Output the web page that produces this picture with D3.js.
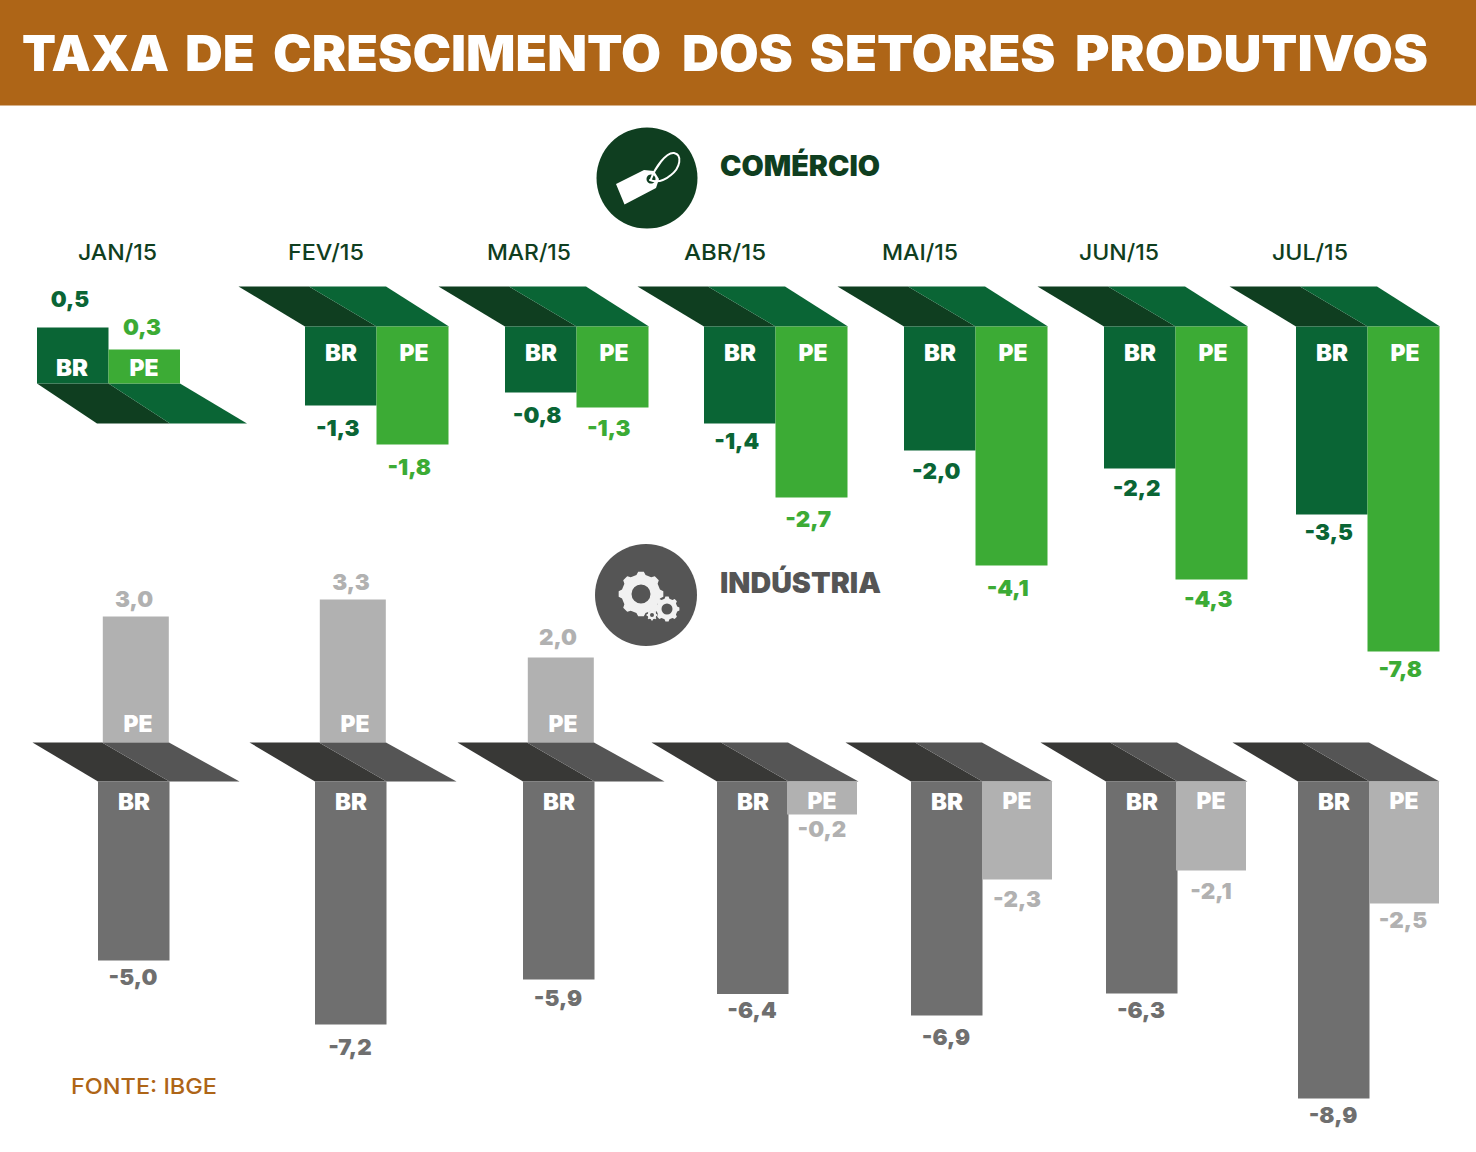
<!DOCTYPE html>
<html lang="pt">
<head>
<meta charset="utf-8">
<title>Taxa de crescimento dos setores produtivos</title>
<script src="https://cdn.jsdelivr.net/npm/d3@7/dist/d3.min.js"></script>
<style>
html,body{margin:0;padding:0;background:#fff}
svg{display:block}
text{font-family:Inter,"Open Sans",sans-serif}
</style>
</head>
<body>
<svg id="chart" width="1476" height="1152"></svg>
<script>
// ---- Data ----
const months = ["JAN/15","FEV/15","MAR/15","ABR/15","MAI/15","JUN/15","JUL/15"];
const comercioBR = [0.5,-1.3,-0.8,-1.4,-2.0,-2.2,-3.5];
const comercioPE = [0.3,-1.8,-1.3,-2.7,-4.1,-4.3,-7.8];
const industriaBR = [-5.0,-7.2,-5.9,-6.4,-6.9,-6.3,-8.9];
const industriaPE = [3.0,3.3,2.0,-0.2,-2.3,-2.1,-2.5];
const titleWords = ["TAXA","DE","CRESCIMENTO","DOS","SETORES","PRODUTIVOS"];

// ---- Layout ----
const C = {banner:"#ae6517",dark:"#0f3e20",green:"#0a6535",light:"#3cab35",
           gDark:"#383836",gMid:"#555555",gBar:"#6f6f6f",gLight:"#b1b1b1"};
const titleSpan = [[22,147],[185,70],[273,388],[682,111],[809.5,246],[1075,353]];
const monthX   = d3.scaleOrdinal(months,[117.5,326,529,725,920,1119,1310]);
const comBrX   = d3.scaleOrdinal(months,[37,305,505,704,904,1104,1296]);
const indBrX   = d3.scaleOrdinal(months,[98,315,523,717,911,1106,1298]);
const indPeNegX= d3.scaleOrdinal(months,[169,385.5,593.5,787,982,1176,1369]);
const W = 71.5;

// The source graphic is not drawn to a single linear scale: piecewise scales
// reproduce its drawn bar lengths.
const comBrLen = d3.scaleLinear([0,0.8,1.3,1.4,2.0,2.2,3.5],[0,66,79,97,124,142,188]);
const comPeLen = d3.scaleLinear([0,1.3,1.8,2.7,4.1,4.3,7.8],[0,81,118,171,239,253,325]);
const comPosLen= d3.scaleLinear([0,0.3,0.5],[0,34,56]);
const indBrLen = d3.scaleLinear([0,5.0,5.9,6.3,6.4,6.9,7.2,8.9],[0,179,198,212,212.5,234,243,317]);
const indPeLen = d3.scaleLinear([0,0.2,2.1,2.3,2.5],[0,33,89,98,122]);
const indPosLen= d3.scaleLinear([0,2.0,3.0,3.3],[0,85,126,143]);

// label placement (distance of baseline from the bar end)
const gapComBr = [20,31,31,26,29,28,26];
const gapComPe = [14,31,29,30,31,28,26];
const gapIndBr = [25,31,27,25,30,25,25];
const gapIndPe = [9,9,12,23,28,29,25];
const valDxCom = [-3,-3,-3.5,-3,-3.5,-3,-3];
const indBrLabelX = [133,350,558,752,946,1141,1333];
const indPeLabelX = [134,351,558,822,1017,1211,1403];

const fmt = v => d3.format(".1f")(v).replace(".",",").replace("\u2212","-");
const svg = d3.select("#chart");

// ---- Header ----
svg.append("rect").attr("width",1476).attr("height",105.5).attr("fill",C.banner);
const titleEl = svg.append("text").attr("y",71).attr("fill","#fff")
  .attr("font-size",50).attr("font-weight",900);
titleWords.forEach((w,i)=>{
  if(i>0) titleEl.append("tspan").text(" ");
  titleEl.append("tspan").attr("x",titleSpan[i][0])
    .attr("textLength",titleSpan[i][1]).attr("lengthAdjust","spacingAndGlyphs")
    .text(w);
});

function label(parent,x,y,txt,fill,size=22,weight=800,tl=null,anchor="middle"){
  const t = parent.append("text").attr("x",x).attr("y",y).attr("fill",fill)
    .attr("font-size",size).attr("font-weight",weight).attr("text-anchor",anchor).text(txt);
  if(tl) t.attr("textLength",tl).attr("lengthAdjust","spacingAndGlyphs");
  return t;
}
// value labels: slightly widened to follow the wide display face of the source
function value(parent,x,y,v,fill){
  const t = label(parent,x,y-0.8,fmt(v),fill,22,900);
  t.attr("textLength",t.node().getComputedTextLength()*1.02).attr("lengthAdjust","spacingAndGlyphs");
  return t;
}
const tagBR = (p,x,y)=>label(p,x,y,"BR","#fff",22.5,900,32);
const tagPE = (p,x,y)=>label(p,x,y,"PE","#fff",22.5,900,29);
const poly = pts => d3.line()(pts)+"Z";

// ---- Section heads and icons ----
const comIcon = svg.append("g");
comIcon.append("circle").attr("cx",647).attr("cy",178).attr("r",50.5).attr("fill",C.dark);
comIcon.append("path").attr("fill-rule","evenodd").attr("fill","#fff")
  .attr("d","M616 184 L644 170 L654 171 L659 179 L656 188 L624.5 204.5 Z M651 174.5 a4.5 4.5 0 1 0 .01 0 Z");
comIcon.append("path").attr("fill","none").attr("stroke","#fff").attr("stroke-width",2)
  .attr("stroke-linecap","round")
  .attr("d","M651 179 C655 168 666 152 674 153 C683 155 680 168 671 175 C665 180 657 183 650 180");
label(svg,720,176,"COMÉRCIO",C.dark,28,900,160,"start");

const indIcon = svg.append("g");
indIcon.append("circle").attr("cx",646).attr("cy",595).attr("r",51).attr("fill",C.gMid);
function gear(cx,cy,rOut,rIn,rHole,n){
  const step = 2*Math.PI/n, pts=[];
  for(let i=0;i<n;i++){
    const a=i*step;
    [[-0.30,rIn],[-0.16,rOut],[0.16,rOut],[0.30,rIn]].forEach(([f,r])=>pts.push([a+f*step,r]));
  }
  const ring = d3.lineRadial().curve(d3.curveLinearClosed)(pts);
  const hole = `M${rHole} 0A${rHole} ${rHole} 0 1 0 ${-rHole} 0A${rHole} ${rHole} 0 1 0 ${rHole} 0Z`;
  indIcon.append("path").attr("transform",`translate(${cx},${cy})`)
    .attr("fill","#f1f1f1").attr("fill-rule","evenodd").attr("d",ring+hole);
}
gear(641,594,22.5,19.5,9.5,8);
gear(667,609,12.5,10.5,5.5,8);
gear(652,615,5.5,4.4,2,8);
label(svg,720,592.5,"INDÚSTRIA",C.gMid,28,900,161,"start");

// ---- Month labels ----
const monthW = [79,76,84,82,76,80,76];
months.forEach((m,i)=>label(svg,monthX(m),260,m,C.dark,22,500,monthW[i]));

// ---- Comércio ----
const comTop = 326.5, comTopShade = 286.5, janBase = 383.5, shade = 40;
months.forEach((m,i)=>{
  const g = svg.append("g"), x = comBrX(m), br = comercioBR[i], pe = comercioPE[i];
  if(br>0){
    const hB=comPosLen(br), hP=comPosLen(pe), y1=janBase+shade;
    g.append("path").attr("fill",C.dark).attr("d",poly([[x,janBase],[x+W,janBase],[x+133,y1],[x+60,y1]]));
    g.append("path").attr("fill",C.green).attr("d",poly([[x+W,janBase],[x+2*W,janBase],[x+210,y1],[x+133,y1]]));
    g.append("rect").attr("x",x).attr("y",janBase-hB).attr("width",W).attr("height",hB).attr("fill",C.green);
    g.append("rect").attr("x",x+W).attr("y",janBase-hP).attr("width",W).attr("height",hP).attr("fill",C.light);
    tagBR(g,x+35,376); tagPE(g,x+107,376);
    value(g,x+33,janBase-hB-gapComBr[i],br,C.green);
    value(g,x+105,janBase-hP-gapComPe[i],pe,C.light);
  } else {
    const hB=comBrLen(-br), hP=comPeLen(-pe);
    g.append("path").attr("fill",C.dark).attr("d",poly([[x-66.5,comTopShade],[x+4,comTopShade],[x+W,comTop],[x,comTop]]));
    g.append("path").attr("fill",C.green).attr("d",poly([[x+4,comTopShade],[x+81,comTopShade],[x+144,comTop],[x+W,comTop]]));
    g.append("rect").attr("x",x).attr("y",comTop).attr("width",W).attr("height",hB).attr("fill",C.green);
    g.append("rect").attr("x",x+W).attr("y",comTop).attr("width",W+0.5).attr("height",hP).attr("fill",C.light);
    tagBR(g,x+36,361); tagPE(g,x+109,361);
    value(g,x+W/2+valDxCom[i],comTop+hB+gapComBr[i],br,C.green);
    value(g,x+W+W/2+valDxCom[i],comTop+hP+gapComPe[i],pe,C.light);
  }
});

// ---- Indústria ----
const indTop = 781.5, indShade = 742.5;
months.forEach((m,i)=>{
  const g = svg.append("g"), x = indBrX(m), br = industriaBR[i], pe = industriaPE[i];
  const hB = indBrLen(-br);
  if(pe>0){
    const hP = indPosLen(pe), w = 66, px = x+4.8;
    g.append("rect").attr("x",px).attr("y",indShade-hP).attr("width",w).attr("height",hP).attr("fill",C.gLight);
    tagPE(g,x+40,732);
    value(g,indPeLabelX[i],indShade-hP-gapIndPe[i],pe,C.gLight);
  }
  g.append("path").attr("fill",C.gDark).attr("d",poly([[x-65.5,indShade],[x+4,indShade],[x+W,indTop],[x,indTop]]));
  g.append("path").attr("fill",C.gMid).attr("d",poly([[x+4,indShade],[x+71,indShade],[x+141.5,indTop],[x+W,indTop]]));
  g.append("rect").attr("x",x).attr("y",indTop).attr("width",W).attr("height",hB).attr("fill",C.gBar);
  tagBR(g,x+36,810);
  value(g,indBrLabelX[i],indTop+hB+gapIndBr[i],br,C.gBar);
  if(pe<0){
    const hP = indPeLen(-pe), px = indPeNegX(m);
    g.append("rect").attr("x",px).attr("y",indTop).attr("width",70).attr("height",hP).attr("fill",C.gLight);
    tagPE(g,px+35,809);
    value(g,indPeLabelX[i],indTop+hP+gapIndPe[i],pe,C.gLight);
  }
});

// ---- Source ----
label(svg,71,1094,"FONTE: IBGE",C.banner,22,500,146,"start");
</script>
</body>
</html>
